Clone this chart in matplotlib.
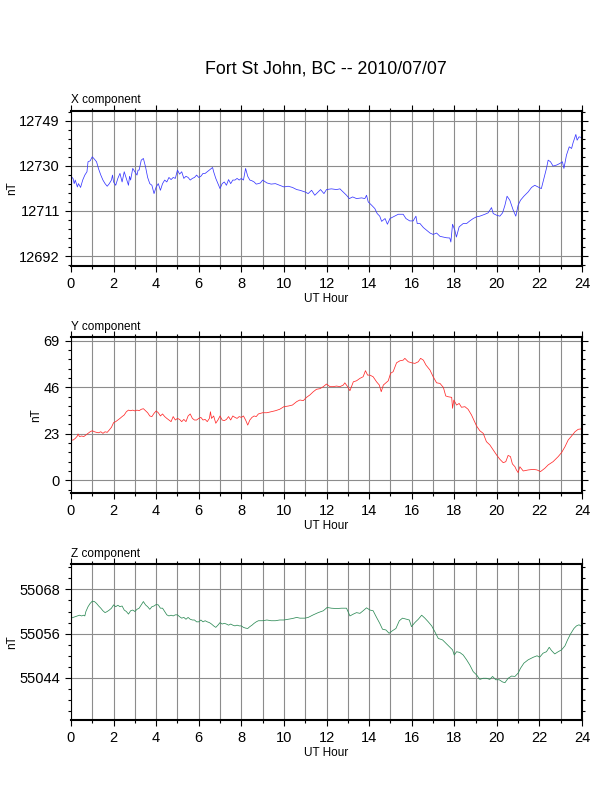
import matplotlib
matplotlib.use("Agg")
import matplotlib.pyplot as plt
from matplotlib.ticker import MultipleLocator

plt.rcParams['font.family'] = ['Liberation Sans', 'DejaVu Sans']

title = "Fort St John, BC -- 2010/07/07"

# X component (nT) vs UT hour
x_hours = [0.0, 0.1, 0.15, 0.2, 0.3, 0.35, 0.45, 0.55, 0.65, 0.75, 0.8, 0.9, 1.0, 1.1, 1.2,
           1.3, 1.4, 1.5, 1.6, 1.7, 1.8, 1.9, 1.95, 2.0, 2.1, 2.2, 2.3, 2.4, 2.5, 2.6, 2.7,
           2.75, 2.8, 2.9, 3.0, 3.1, 3.15, 3.2, 3.3, 3.4, 3.5, 3.6, 3.7, 3.8, 3.9, 4.0, 4.1,
           4.2, 4.3, 4.4, 4.5, 4.6, 4.7, 4.8, 4.9, 5.0, 5.1, 5.2, 5.3, 5.4, 5.5, 5.6, 5.7,
           5.8, 5.9, 6.0, 6.1, 6.2, 6.3, 6.4, 6.5, 6.6, 6.65, 6.7, 6.8, 6.9, 7.0, 7.1, 7.2,
           7.3, 7.4, 7.5, 7.6, 7.7, 7.8, 7.9, 8.0, 8.1, 8.2, 8.3, 8.4, 8.5, 8.6, 8.7, 8.8,
           8.9, 9.0, 9.2, 9.4, 9.6, 9.8, 10.0, 10.2, 10.4, 10.6, 10.75, 10.99, 11.14, 11.3,
           11.45, 11.61, 11.72, 11.88, 12.0, 12.23, 12.47, 12.63, 12.78, 12.94, 13.07, 13.23,
           13.41, 13.65, 13.8, 13.88, 13.96, 14.12, 14.27, 14.38, 14.5, 14.59, 14.75, 14.86,
           14.98, 15.13, 15.37, 15.6, 15.73, 15.91, 16.07, 16.2, 16.26, 16.39, 16.55, 16.71,
           16.86, 17.01, 17.17, 17.33, 17.49, 17.64, 17.79, 17.84, 17.92, 18.03, 18.1, 18.23,
           18.42, 18.58, 18.73, 18.89, 19.04, 19.2, 19.44, 19.59, 19.75, 19.83, 19.99, 20.14,
           20.27, 20.38, 20.48, 20.61, 20.77, 20.89, 21.0, 21.11, 21.27, 21.47, 21.63, 21.78,
           21.94, 22.09, 22.25, 22.33, 22.41, 22.52, 22.64, 22.8, 22.96, 23.08, 23.15, 23.27,
           23.4, 23.51, 23.58, 23.71, 23.77, 23.86, 23.94]
x_nt = [12725.6, 12724.6, 12722.5, 12724.0, 12721.1, 12722.5, 12720.9, 12724.0, 12726.1,
        12727.5, 12731.7, 12732.1, 12733.8, 12732.8, 12731.7, 12728.6, 12726.1, 12724.0,
        12722.5, 12721.4, 12722.5, 12724.0, 12726.1, 12723.2, 12721.8, 12724.7, 12726.8,
        12723.2, 12727.5, 12724.7, 12721.8, 12725.6, 12724.0, 12728.9, 12727.5, 12726.1,
        12728.2, 12728.2, 12732.4, 12733.1, 12729.6, 12725.1, 12722.5, 12721.8, 12718.3,
        12721.1, 12722.5, 12719.7, 12722.5, 12724.0, 12723.2, 12725.1, 12724.2, 12725.1,
        12724.7, 12728.2, 12726.5, 12727.5, 12724.7, 12725.6, 12725.1, 12724.0, 12724.7,
        12725.1, 12726.1, 12725.1, 12725.6, 12726.8, 12726.8, 12727.5, 12728.2, 12728.9,
        12729.3, 12727.5, 12724.7, 12722.5, 12720.4, 12722.5, 12723.2, 12721.8, 12724.2,
        12722.5, 12724.0, 12724.0, 12724.7, 12724.0, 12724.7, 12724.0, 12728.9, 12725.6,
        12724.0, 12723.7, 12723.2, 12722.3, 12722.5, 12722.8, 12724.0, 12722.8, 12722.3,
        12722.5, 12721.8, 12721.1, 12721.4, 12720.9, 12720.0, 12719.7, 12719.0, 12718.3,
        12719.7, 12717.6, 12719.0, 12720.0, 12718.3, 12720.0, 12720.3, 12720.0, 12720.3,
        12719.0, 12717.6, 12716.2, 12716.9, 12716.2, 12716.5, 12716.2, 12717.6, 12714.8,
        12713.4, 12712.0, 12709.9, 12708.8, 12706.6, 12707.8, 12705.4, 12707.8, 12708.5,
        12709.6, 12709.6, 12707.8, 12706.8, 12706.8, 12708.8, 12705.7, 12705.7, 12704.0,
        12702.8, 12701.7, 12701.1, 12701.7, 12700.3, 12700.0, 12699.7, 12699.6, 12697.9,
        12705.4, 12702.8, 12700.0, 12704.3, 12705.7, 12705.7, 12706.8, 12707.8, 12708.5,
        12708.8, 12709.6, 12710.2, 12712.4, 12709.9, 12709.2, 12708.8, 12710.2, 12713.4,
        12717.2, 12715.5, 12711.3, 12708.8, 12713.4, 12715.5, 12717.2, 12719.0, 12720.9,
        12721.8, 12721.1, 12720.4, 12726.1, 12728.9, 12732.4, 12731.7, 12729.9, 12730.3,
        12731.0, 12731.7, 12728.9, 12734.5, 12738.0, 12737.3, 12739.7, 12743.2, 12740.8,
        12742.2, 12742.0]

# Y component (nT)
y_hours = [0.0, 0.1, 0.2, 0.3, 0.33, 0.4, 0.5, 0.6, 0.7, 0.8, 0.9, 1.0, 1.1, 1.2, 1.3, 1.4,
           1.5, 1.6, 1.7, 1.8, 1.9, 2.0, 2.1, 2.2, 2.3, 2.4, 2.5, 2.6, 2.7, 2.8, 2.9, 3.0,
           3.1, 3.2, 3.3, 3.4, 3.5, 3.6, 3.7, 3.8, 3.9, 4.0, 4.1, 4.2, 4.3, 4.4, 4.5, 4.6,
           4.7, 4.8, 4.9, 5.0, 5.1, 5.2, 5.3, 5.4, 5.5, 5.6, 5.7, 5.8, 5.9, 6.0, 6.1, 6.2,
           6.3, 6.4, 6.5, 6.55, 6.6, 6.7, 6.8, 6.9, 7.0, 7.1, 7.2, 7.3, 7.4, 7.5, 7.6, 7.7,
           7.8, 7.9, 8.0, 8.1, 8.2, 8.3, 8.4, 8.5, 8.6, 8.7, 8.8, 9.0, 9.2, 9.4, 9.6, 9.8,
           10.0, 10.2, 10.4, 10.6, 10.75, 10.91, 11.06, 11.22, 11.38, 11.53, 11.69, 11.85,
           12.0, 12.16, 12.32, 12.47, 12.63, 12.79, 12.86, 12.97, 13.1, 13.26, 13.41, 13.57,
           13.72, 13.83, 13.93, 14.04, 14.19, 14.35, 14.48, 14.57, 14.67, 14.79, 14.9, 15.01,
           15.13, 15.29, 15.45, 15.6, 15.68, 15.84, 16.0, 16.15, 16.31, 16.42, 16.55, 16.67,
           16.86, 17.01, 17.17, 17.33, 17.49, 17.6, 17.72, 17.88, 17.92, 17.98, 18.11, 18.23,
           18.34, 18.5, 18.65, 18.81, 18.92, 19.05, 19.2, 19.36, 19.51, 19.67, 19.83, 19.99,
           20.14, 20.3, 20.42, 20.53, 20.64, 20.73, 20.85, 20.92, 21.0, 21.08, 21.24, 21.47,
           21.71, 21.89, 22.05, 22.25, 22.41, 22.64, 22.88, 23.04, 23.2, 23.35, 23.51, 23.67,
           23.82, 23.95]
y_nt = [19.9, 19.9, 20.7, 21.9, 22.9, 21.6, 21.9, 21.6, 22.4, 23.2, 24.0, 24.5, 24.0, 23.7,
        23.5, 24.0, 23.2, 24.0, 23.7, 24.9, 26.2, 28.5, 29.0, 29.8, 30.6, 31.5, 32.3, 33.9,
        34.7, 34.4, 34.7, 34.3, 34.7, 34.4, 35.1, 35.4, 34.4, 33.4, 31.8, 31.5, 33.1, 34.3,
        33.4, 31.8, 32.8, 31.5, 30.6, 29.8, 29.0, 31.5, 29.8, 30.6, 30.1, 29.0, 30.1, 29.0,
        31.8, 32.8, 30.6, 29.8, 29.8, 30.6, 31.1, 29.8, 30.1, 29.0, 30.6, 33.9, 30.6, 31.8,
        28.2, 29.8, 31.8, 29.8, 29.5, 30.1, 31.5, 29.8, 31.8, 31.1, 30.6, 31.5, 31.1, 31.8,
        29.8, 27.3, 29.8, 31.1, 31.8, 31.5, 32.8, 33.4, 33.4, 33.9, 34.4, 35.1, 36.4, 36.7,
        37.2, 38.9, 39.7, 39.4, 41.0, 42.2, 43.8, 45.0, 45.3, 46.3, 47.6, 46.3, 46.3, 46.6,
        46.3, 47.1, 48.2, 46.6, 44.3, 48.7, 49.2, 50.4, 51.2, 54.2, 52.0, 52.0, 51.2, 48.7,
        47.1, 43.8, 47.1, 48.2, 49.2, 52.9, 53.7, 58.1, 59.1, 59.4, 60.3, 58.6, 58.1, 57.8,
        58.6, 60.3, 59.4, 57.0, 54.5, 51.2, 48.2, 47.9, 45.9, 41.7, 41.3, 41.0, 35.6, 39.7,
        37.2, 38.0, 36.1, 36.4, 35.1, 32.3, 29.8, 26.8, 24.5, 23.2, 19.1, 17.5, 15.0, 12.5,
        10.4, 8.7, 9.2, 12.3, 11.7, 8.1, 6.7, 5.1, 3.8, 6.7, 4.6, 5.1, 5.4, 5.1, 4.3, 5.9,
        7.6, 9.2, 11.7, 13.7, 16.6, 19.9, 21.9, 24.0, 25.2, 25.4]

# Z component (nT)
z_hours = [0.0, 0.1, 0.2, 0.3, 0.4, 0.5, 0.6, 0.65, 0.7, 0.8, 0.9, 1.0, 1.1, 1.2, 1.3, 1.4,
           1.5, 1.6, 1.7, 1.8, 1.9, 2.0, 2.1, 2.2, 2.3, 2.4, 2.5, 2.6, 2.7, 2.8, 2.9, 3.0,
           3.1, 3.2, 3.3, 3.4, 3.5, 3.6, 3.7, 3.8, 3.9, 4.0, 4.1, 4.2, 4.3, 4.4, 4.5, 4.6,
           4.7, 4.8, 4.9, 5.0, 5.1, 5.2, 5.3, 5.4, 5.5, 5.6, 5.7, 5.8, 5.9, 6.0, 6.1, 6.2,
           6.3, 6.4, 6.5, 6.6, 6.7, 6.8, 6.9, 7.0, 7.1, 7.2, 7.3, 7.4, 7.5, 7.6, 7.7, 7.8,
           7.9, 8.0, 8.1, 8.2, 8.3, 8.4, 8.5, 8.6, 8.7, 8.8, 9.0, 9.2, 9.4, 9.6, 9.8, 10.0,
           10.2, 10.4, 10.6, 10.75, 10.99, 11.14, 11.38, 11.61, 11.85, 12.03, 12.23, 12.47,
           12.71, 12.94, 13.1, 13.26, 13.41, 13.57, 13.72, 13.88, 14.04, 14.19, 14.35, 14.5,
           14.63, 14.79, 14.94, 15.1, 15.26, 15.42, 15.57, 15.76, 15.89, 15.99, 16.15, 16.31,
           16.47, 16.62, 16.78, 16.94, 17.09, 17.25, 17.45, 17.64, 17.79, 17.92, 18.0, 18.11,
           18.26, 18.42, 18.58, 18.73, 18.89, 19.05, 19.2, 19.36, 19.51, 19.67, 19.8, 19.95,
           20.11, 20.27, 20.38, 20.53, 20.69, 20.85, 21.0, 21.11, 21.27, 21.47, 21.71, 21.89,
           22.01, 22.17, 22.33, 22.46, 22.57, 22.72, 22.88, 23.04, 23.2, 23.32, 23.46, 23.62,
           23.74, 23.86, 23.94]
z_nt = [55060.2, 55060.4, 55060.6, 55060.8, 55061.0, 55060.8, 55061.0, 55060.8, 55062.0,
        55063.3, 55064.2, 55064.8, 55064.7, 55064.2, 55063.5, 55062.9, 55062.2, 55061.7,
        55062.0, 55062.4, 55062.9, 55063.8, 55063.3, 55063.7, 55063.3, 55063.5, 55062.4,
        55062.0, 55061.3, 55062.2, 55062.4, 55062.0, 55062.6, 55062.9, 55063.8, 55064.7,
        55063.8, 55063.3, 55062.6, 55063.3, 55063.5, 55063.9, 55063.8, 55062.9, 55062.9,
        55062.0, 55061.1, 55060.8, 55061.0, 55060.8, 55061.1, 55061.1, 55060.6, 55060.2,
        55060.4, 55059.9, 55060.4, 55059.9, 55059.7, 55059.7, 55059.2, 55059.2, 55059.7,
        55059.2, 55059.5, 55059.2, 55059.0, 55058.6, 55058.1, 55057.7, 55058.3, 55059.0,
        55058.6, 55058.8, 55058.6, 55058.3, 55058.6, 55058.3, 55058.1, 55058.3, 55058.1,
        55058.1, 55057.7, 55057.5, 55057.4, 55057.9, 55058.3, 55058.8, 55059.2, 55059.5,
        55059.5, 55059.7, 55059.5, 55059.5, 55059.7, 55059.7, 55059.9, 55060.1, 55060.4,
        55060.2, 55060.2, 55060.4, 55061.1, 55061.7, 55062.2, 55063.1, 55062.9, 55062.8,
        55062.9, 55062.9, 55060.8, 55061.3, 55061.7, 55061.5, 55062.2, 55063.0, 55062.4,
        55062.2, 55060.4, 55058.8, 55057.2, 55057.0, 55056.1, 55056.8, 55057.4, 55059.5,
        55060.2, 55059.9, 55059.7, 55057.9, 55059.0, 55059.9, 55061.0, 55060.2, 55059.2,
        55058.1, 55056.5, 55054.7, 55054.3, 55053.2, 55052.3, 55051.6, 55050.2, 55051.1,
        55050.9, 55050.2, 55048.9, 55047.5, 55045.7, 55044.8, 55043.6, 55043.9, 55043.9,
        55043.6, 55044.4, 55043.5, 55043.5, 55042.9, 55042.7, 55043.9, 55044.5, 55044.4,
        55045.3, 55046.6, 55048.0, 55048.9, 55049.6, 55050.0, 55049.6, 55050.7, 55051.1,
        55052.3, 55051.4, 55050.5, 55051.1, 55051.6, 55052.7, 55054.3, 55055.9, 55057.4,
        55058.1, 55058.4, 55058.1]

x_ticks = [12692, 12711, 12730, 12749]
y_ticks = [0, 23, 46, 69]
z_ticks = [55044, 55056, 55068]


def style_panel(ax, name, yticks, ylim, yminor):
    ax.set_xlim(0, 24)
    ax.set_ylim(*ylim)
    ax.set_xticks(range(0, 25, 2))
    ax.xaxis.set_minor_locator(MultipleLocator(1))
    ax.set_yticks(yticks)
    ax.yaxis.set_minor_locator(MultipleLocator(yminor))
    ax.grid(True, which='major', axis='y', color='#8c8c8c', lw=0.8)
    ax.grid(True, which='both', axis='x', color='#8c8c8c', lw=0.8)
    ax.tick_params(which='both', direction='out', top=True, right=True,
                   labelsize=10.5, width=0.8)
    ax.tick_params(which='major', length=4.5)
    ax.tick_params(which='minor', length=2.5)
    ax.spines['left'].set_linewidth(0.8)
    for s in ('top', 'bottom', 'right'):
        ax.spines[s].set_linewidth(1.5)
    ax.set_xlabel('UT Hour', fontsize=8.5, labelpad=1)
    ax.set_ylabel('nT', fontsize=8.5, labelpad=1)
    ax.text(0.0, 1.03, name, transform=ax.transAxes, fontsize=8.5,
            ha='left', va='bottom')


fig = plt.figure(figsize=(6.12, 7.92), dpi=100)
ax1 = fig.add_axes([0.116, 0.6641, 0.835, 0.1961])
ax2 = fig.add_axes([0.116, 0.3775, 0.835, 0.1966])
ax3 = fig.add_axes([0.116, 0.0905, 0.835, 0.1970])

ax1.plot(x_hours, x_nt, color='#3838ff', lw=0.55)
ax2.plot(y_hours, y_nt, color='#ff2a2a', lw=0.55)
ax3.plot(z_hours, z_nt, color='#2e8b57', lw=0.55)

style_panel(ax1, 'X component', x_ticks, (12687.8, 12753.2), 3.8)
style_panel(ax2, 'Y component', y_ticks, (-6.3, 70.7), 4.6)
style_panel(ax3, 'Z component', z_ticks, (55032.5, 55074.8), 3)

fig.text(0.533, 0.913, title, fontsize=12.8, ha='center', va='center')

fig.savefig('out.png', dpi=100)
